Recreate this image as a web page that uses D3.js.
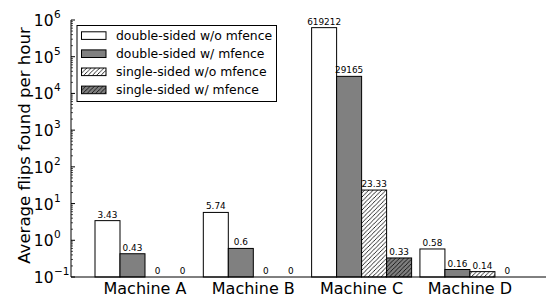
<!DOCTYPE html>
<html><head><meta charset="utf-8">
<script src="https://cdn.jsdelivr.net/npm/d3@7"></script>
<style>body{margin:0;background:#fff;} svg{display:block;font-family:"DejaVu Sans",sans-serif;}</style>
</head><body>
<svg id="c" width="546" height="296"></svg>
<script>
const machines = ["Machine A","Machine B","Machine C","Machine D"];
const seriesNames = ["double-sided w/o mfence","double-sided w/ mfence","single-sided w/o mfence","single-sided w/ mfence"];
const dsNoFence = [3.43, 5.74, 619212, 0.58];
const dsFence   = [0.43, 0.6, 29165, 0.16];
const ssNoFence = [0, 0, 23.33, 0.14];
const ssFence   = [0, 0, 0.33, 0];
const valueLabels = [
  ["3.43","5.74","619212","0.58"],
  ["0.43","0.6","29165","0.16"],
  ["0","0","23.33","0.14"],
  ["0","0","0.33","0"]
];
const yTicks = [-1,0,1,2,3,4,5,6];
const series = [dsNoFence, dsFence, ssNoFence, ssFence];

(function(){
const svg = d3.select("#c");
const defs = svg.append("defs");
function hatch(id, bg){
  const p = defs.append("pattern").attr("id",id).attr("patternUnits","userSpaceOnUse")
    .attr("width",4.3).attr("height",4.3);
  p.append("rect").attr("width",4.3).attr("height",4.3).attr("fill",bg);
  p.append("path").attr("d","M-1,1.075 L1.075,-1 M0,4.3 L4.3,0 M3.225,5.3 L5.3,3.225")
    .attr("stroke","#000").attr("stroke-width",0.8);
}
hatch("h1","#fff"); hatch("h2","#7f7f7f");
const fills = ["#fff","#808080","url(#h1)","url(#h2)"];

const pl = 71, pr = 546, pt = 20, pb = 277;
const x = d3.scaleLinear().domain([-0.2216, 4.164]).range([pl, pr]);
const barW = 0.2308;
const y = d3.scaleLog().domain([0.1, 1e6]).range([pb, pt]);

series.forEach((vals, s) => {
  vals.forEach((v, i) => {
    const x0 = x(i + s*barW), x1 = x(i + (s+1)*barW);
    if (v > 0.1) {
      svg.append("rect").attr("x", x0).attr("y", y(v)).attr("width", x1-x0)
        .attr("height", y(0.1)-y(v)).attr("fill", fills[s]).attr("stroke","#000").attr("stroke-width",1);
    }
    const ty = v > 0.1 ? y(v) - 3 : y(0.1) - 3;
    svg.append("text").attr("x",(x0+x1)/2).attr("y",ty).attr("text-anchor","middle")
      .attr("font-size",8.9).attr("fill","#000").text(valueLabels[s][i]);
  });
});

svg.append("line").attr("x1",pl).attr("x2",pl).attr("y1",pt).attr("y2",pb).attr("stroke","#000");
svg.append("line").attr("x1",pl).attr("x2",pr).attr("y1",pb).attr("y2",pb).attr("stroke","#000");
yTicks.forEach(e => {
  const yy = y(Math.pow(10,e));
  svg.append("line").attr("x1",pl).attr("x2",pl+4).attr("y1",yy).attr("y2",yy).attr("stroke","#000");
  if (e < 6) for (let m=2; m<10; m++){
    const ym = y(m*Math.pow(10,e));
    svg.append("line").attr("x1",pl).attr("x2",pl+2).attr("y1",ym).attr("y2",ym).attr("stroke","#000").attr("stroke-width",0.7);
  }
  svg.append("text").attr("x",pl-17.5).attr("y",yy+6).attr("text-anchor","end")
    .attr("font-size",15.5).attr("fill","#000").text("10");
  svg.append("text").attr("x",pl-17).attr("y",yy-2).attr("text-anchor","start")
    .attr("font-size",10.5).attr("fill","#000").text(String(e).replace("-","\u2212"));
});
machines.forEach((m,i) => {
  svg.append("text").attr("x", x(i + 2*barW)).attr("y",293.5).attr("text-anchor","middle")
    .attr("font-size",16).attr("fill","#000").text(m);
});
svg.append("text").attr("transform","translate(30,145.5) rotate(-90)").attr("text-anchor","middle")
  .attr("font-size",16.6).attr("fill","#000").text("Average flips found per hour");

const lg = svg.append("g");
lg.append("rect").attr("x",77).attr("y",25.5).attr("width",199.5).attr("height",76).attr("fill","#fff").attr("stroke","#000");
seriesNames.forEach((n,s) => {
  const cy = 35.6 + s*18.1;
  lg.append("rect").attr("x",81.5).attr("y",cy-3.8).attr("width",24.5).attr("height",7.6)
    .attr("fill",fills[s]).attr("stroke","#000");
  lg.append("text").attr("x",116).attr("y",cy+4.5).attr("font-size",12.4).attr("fill","#000").text(n);
});
})();
</script>
</body></html>
